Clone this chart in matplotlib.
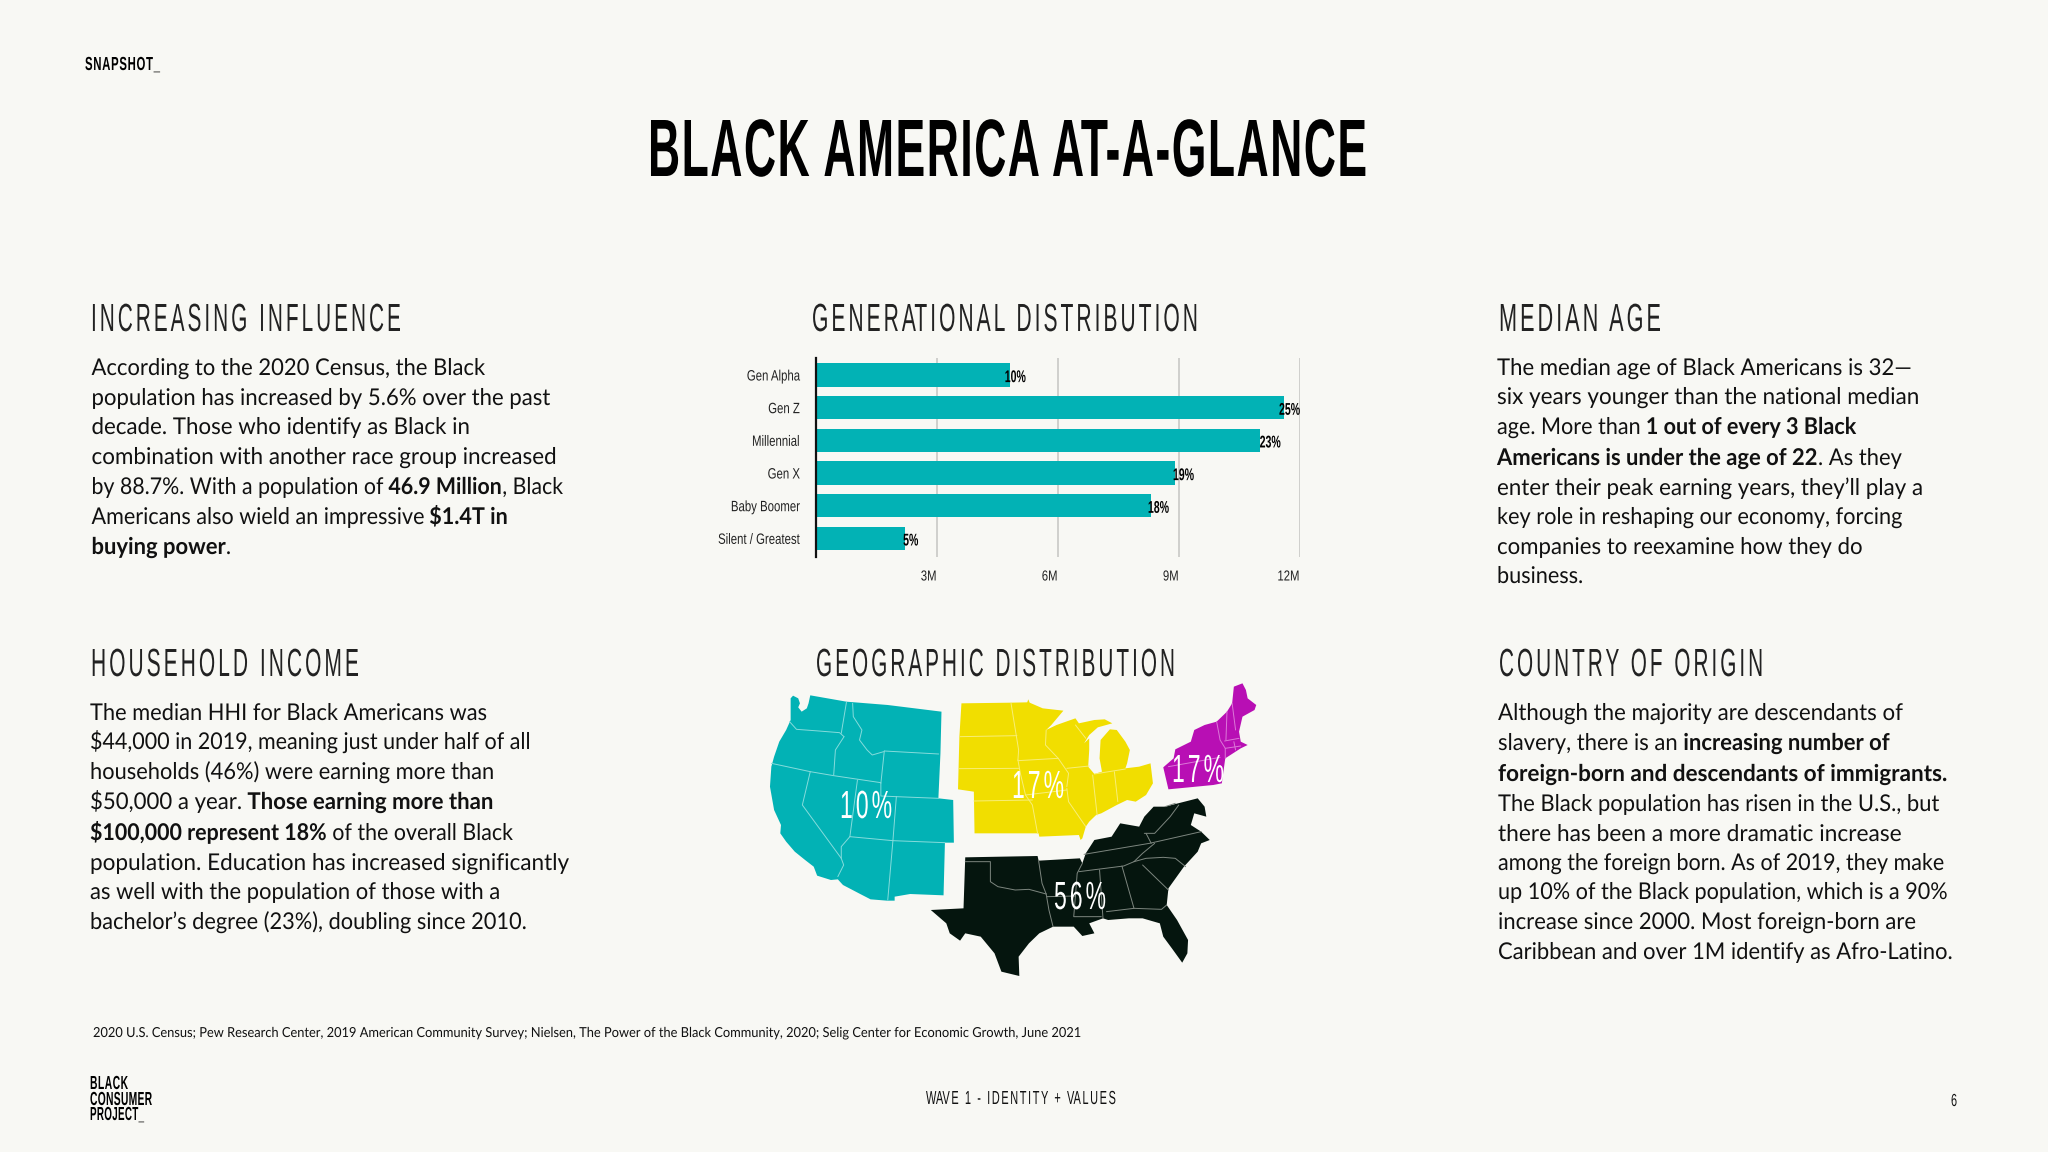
import matplotlib
matplotlib.use("Agg")
import matplotlib.pyplot as plt
from matplotlib.patheffects import AbstractPathEffect
from matplotlib.path import Path
from matplotlib.transforms import Affine2D, IdentityTransform
import numpy as np

W, H = 2048, 1152
BG = "#f8f8f4"; TEAL = "#02b2b5"; YELLOW = "#f1de00"; MAGENTA = "#b80fb4"; DARK = "#05150e"
DIN = "Liberation Sans"; BODY = "Lato"; INK = "#111111"

# ---------------- data ----------------
generations = ["Gen Alpha", "Gen Z", "Millennial", "Gen X", "Baby Boomer", "Silent / Greatest"]
gen_millions = [4.8, 11.6, 11.0, 8.9, 8.3, 2.2]
gen_labels = ["10%", "25%", "23%", "19%", "18%", "5%"]
gen_label_x = [4.68, 11.48, 11.0, 8.85, 8.23, 2.16]
x_ticks = [3, 6, 9, 12]
x_tick_labels = ["3M", "6M", "9M", "12M"]

# map outlines
west = [(118,85),(125,77),(140,85),(145,100),(140,112),(150,125),(165,115),(170,100),(175,76),(280,95),(400,105),(556,125),
        (553,250),(547,385),(590,390),(592,518),(566,518),(562,676),(465,672),(420,680),(420,692),(398,692),(350,688),
        (320,672),(270,645),(255,628),(235,630),(195,617),(185,590),(160,570),(130,545),(105,515),(88,490),(90,465),
        (70,420),(58,350),(62,290),(70,260),(85,215),(105,180),(118,150),(118,125)]
west_borders = [[(115,155),(135,178),(200,183),(260,188),(273,200)], [(280,97),(265,190)],
    [(273,200),(248,240),(243,315)], [(298,100),(300,140),(325,180),(318,210),(340,240),(355,255),(388,245)],
    [(390,243),(548,252)], [(390,243),(380,340)], [(62,280),(175,305),(243,317),(380,338)],
    [(312,330),(290,500)], [(380,340),(380,378),(425,380)], [(425,380),(415,512)], [(425,380),(548,385)],
    [(175,305),(152,405),(265,565),(272,585),(255,620)], [(290,500),(265,530),(265,565)],
    [(290,500),(415,512),(566,518)], [(415,512),(400,690)]]
midwest = [(614,100),(760,98),(805,97),(808,88),(812,98),(850,115),(910,122),(875,165),(860,180),(890,165),(945,145),
           (955,160),(1000,150),(1030,148),(1052,160),(1010,172),(985,195),(970,220),(985,205),(985,240),(982,290),
           (1000,312),(1022,305),(1015,265),(1018,210),(1045,178),(1065,180),(1090,215),(1103,240),(1095,280),(1090,295),
           (1130,290),(1163,280),(1170,340),(1150,375),(1120,395),(1095,390),(1065,405),(1020,430),(1005,435),(985,455),
           (975,470),(965,505),(960,510),(955,495),(840,500),(838,490),(652,490),(650,365),(604,358),(608,200)]
midwest_borders = [[(610,200),(775,197)], [(608,296),(780,295)], [(758,100),(780,240),(778,270)], [(778,272),(895,265)],
    [(860,180),(858,225),(895,265)], [(895,265),(925,310),(920,350)], [(800,375),(920,360)],
    [(778,270),(785,310),(800,375),(820,405),(835,490)], [(650,393),(820,390)], [(920,355),(925,395),(965,455),(975,470)],
    [(920,295),(985,288)], [(995,315),(1008,435)], [(1058,305),(1068,395)], [(1000,312),(1090,297)], [(945,165),(975,205)]]
northeast = [(1405,50),(1430,40),(1440,60),(1445,85),(1470,105),(1465,120),(1430,140),(1420,185),(1425,215),(1445,225),
             (1425,235),(1395,255),(1380,265),(1370,340),(1345,345),(1215,358),(1200,292),(1230,265),(1235,238),(1280,215),
             (1290,180),(1320,165),(1355,155),(1385,125),(1400,100)]
northeast_borders = [[(1355,155),(1365,210),(1380,235),(1380,265)], [(1385,125),(1382,210)], [(1400,100),(1410,180)],
    [(1378,213),(1420,205)], [(1380,235),(1425,228)], [(1405,215),(1410,240)], [(1215,290),(1365,262)]]
south = [(625,562),(835,558),(838,572),(958,565),(965,580),(975,550),(1000,510),(1050,500),(1075,460),(1130,470),(1145,440),
         (1172,410),(1205,410),(1300,385),(1320,410),(1325,440),(1290,430),(1280,465),(1310,485),(1335,510),(1310,520),
         (1300,545),(1260,590),(1215,655),(1210,705),(1240,750),(1272,810),(1270,850),(1255,878),(1225,835),(1200,800),
         (1190,760),(1140,745),(1100,745),(1040,750),(1025,745),(985,760),(1000,790),(965,798),(940,770),(880,770),(840,790),
         (810,820),(780,860),(782,918),(730,905),(710,850),(670,800),(625,790),(610,812),(580,790),(570,760),(525,720),(620,715)]
south_borders = [[(625,575),(698,575),(698,635),(720,650),(770,660),(810,658),(860,672)], [(838,572),(848,640),(860,672)],
    [(860,672),(868,720),(880,770)], [(862,680),(945,678)], [(945,678),(940,740),(1020,740)], [(965,580),(950,610),(945,678)],
    [(970,553),(1160,520),(1310,485)], [(955,605),(1085,588),(1115,575)], [(1150,490),(1165,520)], [(1015,600),(1025,745)],
    [(1080,588),(1115,715)], [(1035,725),(1115,715),(1195,718),(1210,705)], [(1140,585),(1175,620),(1215,660)],
    [(1115,575),(1150,565),(1200,562),(1235,565),(1265,590)], [(1175,520),(1140,550),(1115,575)],
    [(1145,490),(1175,490),(1220,440),(1245,405)], [(1205,410),(1235,400)]]

# ---------------- copy ----------------
influence_lines = [[("According to the 2020 Census, the Black",0)], [("population has increased by 5.6% over the past",0)],
    [("decade. Those who identify as Black in",0)], [("combination with another race group increased",0)],
    [("by 88.7%. With a population of ",0),("46.9 Million",1),(", Black",0)],
    [("Americans also wield an impressive ",0),("$1.4T in",1)], [("buying power",1),(".",0)]]
income_lines = [[("The median HHI for Black Americans was",0)], [("$44,000 in 2019, meaning just under half of all",0)],
    [("households (46%) were earning more than",0)], [("$50,000 a year. ",0),("Those earning more than",1)],
    [("$100,000 represent 18%",1),(" of the overall Black",0)], [("population. Education has increased significantly",0)],
    [("as well with the population of those with a",0)], [("bachelor\u2019s degree (23%), doubling since 2010.",0)]]
median_lines = [[("The median age of Black Americans is 32\u2014",0)], [("six years younger than the national median",0)],
    [("age. More than ",0),("1 out of every 3 Black",1)], [("Americans is under the age of 22",1),(". As they",0)],
    [("enter their peak earning years, they\u2019ll play a",0)], [("key role in reshaping our economy, forcing",0)],
    [("companies to reexamine how they do",0)], [("business.",0)]]
origin_lines = [[("Although the majority are descendants of",0)], [("slavery, there is an ",0),("increasing number of",1)],
    [("foreign-born and descendants of immigrants.",1)], [("The Black population has risen in the U.S., but",0)],
    [("there has been a more dramatic increase",0)], [("among the foreign born. As of 2019, they make",0)],
    [("up 10% of the Black population, which is a 90%",0)], [("increase since 2000. Most foreign-born are",0)],
    [("Caribbean and over 1M identify as Afro-Latino.",0)]]
source_text = ("2020 U.S. Census; Pew Research Center, 2019 American Community Survey; Nielsen, The Power of the Black "
               "Community, 2020; Selig Center for Economic Growth, June 2021")


class Squeeze(AbstractPathEffect):
    """Scale the glyphs around the text anchor and, optionally, track them apart."""
    def __init__(self, sx, align="left", sy=1.0, track=0.0, space_gap=1e9):
        super().__init__()
        self.sx, self.align, self.sy, self.track, self.space_gap = sx, align, sy, track, space_gap

    def draw_path(self, renderer, gc, tpath, affine, rgbFace=None):
        e = tpath.get_extents()
        a = {"left": 0.0, "center": (e.x0 + e.x1) / 2, "right": e.x1}[self.align]
        t = Affine2D().translate(-a, 0).scale(self.sx, self.sy).translate(a, 0) + affine
        if not self.track:
            renderer.draw_path(gc, tpath, t, rgbFace)
            return
        p = t.transform_path(tpath)
        v = np.array(p.vertices, dtype=float); c = np.array(p.codes)
        starts = list(np.where(c == Path.MOVETO)[0]) + [len(c)]
        parts = sorted(((v[i:j, 0].min(), v[i:j, 0].max(), i, j) for i, j in zip(starts[:-1], starts[1:])))
        k, right = -1, None
        for x0, x1, i, j in parts:
            if right is None or x0 >= right - 0.2:
                k += 1
                if right is not None and x0 - right > self.space_gap:
                    k += 1
            right = x1 if right is None else max(right, x1)
            v[i:j, 0] += k * self.track
        renderer.draw_path(gc, Path(v, c), IdentityTransform(), rgbFace)


fig = plt.figure(figsize=(W / 100, H / 100), dpi=100, facecolor=BG)
renderer = fig.canvas.get_renderer()
px = 0.72  # points per image pixel at dpi 100
CAP = 0.688


def pax(z):
    a = fig.add_axes([0, 0, 1, 1], zorder=z)
    a.set_xlim(0, W); a.set_ylim(H, 0); a.axis("off"); a.patch.set_visible(False)
    return a


page = pax(0)


def fit(ax, x0, x1, base, s, cap, weight="normal", color=INK, family=DIN, track=0.0):
    t = ax.text(x0, base, s, fontsize=cap / CAP * px, fontweight=weight, color=color, family=family,
                ha="left", va="baseline")
    w = t.get_window_extent(renderer).width
    sx = (x1 - x0 - (len(s) - 1) * track) / w
    t.set_path_effects([Squeeze(sx, track=track, space_gap=0.14 * cap / CAP * sx)])
    return t


def measure(s, size, weight):
    a = page.text(0, 0, s + "|", fontsize=size, fontweight=weight, family=BODY)
    b = page.text(0, 0, "|", fontsize=size, fontweight=weight, family=BODY)
    w = a.get_window_extent(renderer).width - b.get_window_extent(renderer).width
    a.remove(); b.remove()
    return w


def body(x, baselines, ends, lines, size_px=21.0, sy=1.1):
    size = size_px * px
    for base, end, segs in zip(baselines, ends, lines):
        widths = [measure(s, size, "bold" if b else "normal") for s, b in segs]
        sx = (end - x) / sum(widths)
        cx = x
        for (s, b), w in zip(segs, widths):
            t = page.text(cx, base + 1, s, fontsize=size, fontweight="bold" if b else "normal", family=BODY,
                          color=INK, ha="left", va="baseline")
            t.set_path_effects([Squeeze(sx, sy=sy)])
            cx += w * sx


# ---------------- headers ----------------
fit(page, 85, 160, 70, "SNAPSHOT_", 13, "bold", "#000000", track=0.7)
fit(page, 648, 1370, 176, "BLACK AMERICA AT-A-GLANCE", 56, "bold", "#000000", track=1.5)
for x0, x1, base, s in [(91, 401, 331, "INCREASING INFLUENCE"), (812, 1201, 331, "GENERATIONAL DISTRIBUTION"),
                        (1499, 1661, 331, "MEDIAN AGE"), (91, 359, 676, "HOUSEHOLD INCOME"),
                        (816, 1175, 676, "GEOGRAPHIC DISTRIBUTION"), (1499, 1763, 676, "COUNTRY OF ORIGIN")]:
    fit(page, x0, x1, base, s, 27, "normal", "#222222", track=3.0)

body(91.5, [374, 404, 433, 463, 493, 523, 553], [485, 550, 469, 556, 563, 508, 231], influence_lines)
body(90, [719, 748, 778, 808, 839, 869, 898, 928], [486, 530, 494, 494, 513, 568, 500, 526], income_lines)
body(1497, [374, 403, 433, 464, 494, 523, 553, 582], [1911, 1919, 1857, 1902, 1923, 1902, 1862, 1583], median_lines)
body(1498, [719, 749, 780, 810, 840, 869, 898, 928, 958], [1903, 1890, 1948, 1939, 1901, 1944, 1947, 1915, 1952], origin_lines)

# ---------------- bars ----------------
ax = fig.add_axes([816 / W, 1 - 557 / H, 484 / W, 199 / H], zorder=2)
ax.patch.set_visible(False)
pos = list(range(len(generations)))
ax.barh(pos, gen_millions, height=0.72, color=TEAL, zorder=2)
ax.set_xlim(0, 12); ax.set_ylim(5.57, -0.52)
ax.set_yticks(pos, generations)
ax.set_xticks(x_ticks, x_tick_labels)
ax.grid(axis="x", color="#c9c9c6", lw=1.2, zorder=0); ax.set_axisbelow(True)
for k in ("top", "right", "bottom"):
    ax.spines[k].set_visible(False)
ax.spines["left"].set_linewidth(1.6); ax.spines["left"].set_color("#111111")
ax.tick_params(axis="both", length=0)
ax.tick_params(axis="y", pad=11.5)
ax.tick_params(axis="x", pad=9)
for t in ax.get_yticklabels():
    t.set(family=DIN, fontsize=15 * px, color="#222222")
    t.set_path_effects([Squeeze(0.76, "right")])
for t in ax.get_xticklabels():
    t.set(family=DIN, fontsize=14.5 * px, color="#222222", ha="right")
    t.set_path_effects([Squeeze(0.78, "right")])
for yi, xv, lab in zip(pos, gen_label_x, gen_labels):
    t = ax.text(xv, yi + 0.08, lab, family=DIN, fontweight="bold", fontsize=17 * px, color="#000000", ha="left", va="center", zorder=4)
    t.set_path_effects([Squeeze(0.62, "left")])

# ---------------- map ----------------
m = fig.add_axes([750 / W, 1 - 990 / H, 540 / W, 320 / H], zorder=3)
m.set_xlim(0, 1568); m.set_ylim(960, 0); m.axis("off"); m.patch.set_visible(False)
for shape, borders, col, line in [(west, west_borders, TEAL, "#86dcdc"), (midwest, midwest_borders, YELLOW, "#f8ee78"),
                                  (northeast, northeast_borders, MAGENTA, "#dc78d8"), (south, south_borders, DARK, "#7d867f")]:
    m.fill([p[0] for p in shape], [p[1] for p in shape], color=col, lw=0)
    for b in borders:
        m.plot([p[0] for p in b], [p[1] for p in b], color=line, lw=0.7, solid_capstyle="round")

over = pax(4)
for x0, x1, base, s in [(840, 892, 818, "10%"), (1012, 1064, 798, "17%"), (1172, 1224, 782, "17%"), (1054, 1106, 909, "56%")]:
    fit(over, x0, x1, base, s, 27, "normal", "#ffffff", track=3.0)

# ---------------- footer ----------------
t = page.text(93, 1037, source_text, fontsize=13 * px, family=BODY, color=INK, ha="left", va="baseline")
t.set_path_effects([Squeeze(990 / t.get_window_extent(renderer).width, sy=1.06)])
fit(page, 90, 128, 1089, "BLACK", 13, "bold", "#000000", track=0.5)
fit(page, 90, 152, 1105, "CONSUMER", 13, "bold", "#000000", track=0.3)
fit(page, 90, 144, 1120, "PROJECT_", 13, "bold", "#000000", track=0.3)
fit(page, 926, 1120, 1104, "WAVE 1 - IDENTITY + VALUES", 13, "normal", "#111111", track=1.6)
fit(page, 1951, 1957, 1106, "6", 12, "normal", "#111111")

fig.savefig("out.png", dpi=100, facecolor=BG)
